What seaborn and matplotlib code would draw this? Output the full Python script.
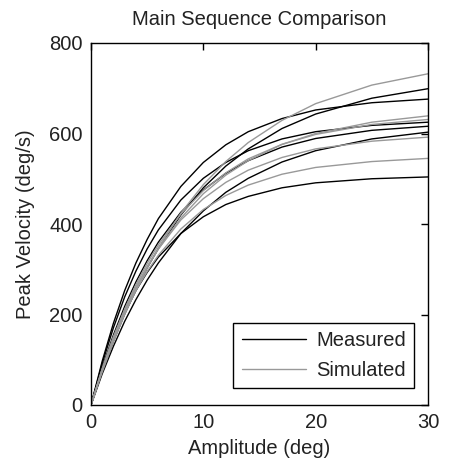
import numpy as np
import pandas as pd
import matplotlib
matplotlib.use("Agg")
import matplotlib.pyplot as plt
import seaborn as sns
from matplotlib.lines import Line2D

# Amplitudes (deg) at which the curves were read
amplitude = [0, 1, 2, 3, 4, 5, 6, 8, 10, 12, 14, 17, 20, 25, 30]

# Measured main-sequence curves (peak velocity, deg/s)
measured_1 = [0, 97, 181, 253, 314, 366, 412, 483, 536, 575, 604, 633, 652, 668, 676]
measured_2 = [0, 92, 171, 239, 296, 345, 387, 453, 501, 536, 562, 588, 604, 618, 625]
measured_3 = [0, 83, 155, 218, 272, 319, 360, 426, 475, 512, 540, 570, 589, 607, 616]
measured_4 = [0, 69, 130, 185, 233, 276, 314, 379, 429, 470, 501, 537, 562, 588, 603]
measured_5 = [0, 80, 148, 205, 253, 293, 327, 379, 416, 443, 461, 480, 491, 500, 504]
measured_6 = [0, 74, 141, 201, 254, 303, 346, 420, 480, 528, 566, 611, 643, 678, 699]

# Simulated main-sequence curves (peak velocity, deg/s)
simulated_1 = [0, 73, 140, 200, 254, 303, 347, 424, 487, 538, 580, 629, 666, 707, 732]
simulated_2 = [0, 77, 145, 205, 257, 304, 345, 413, 467, 508, 540, 576, 600, 625, 639]
simulated_3 = [0, 80, 151, 212, 266, 313, 354, 422, 474, 513, 544, 576, 598, 620, 631]
simulated_4 = [0, 80, 149, 209, 261, 306, 345, 409, 456, 492, 519, 547, 566, 583, 592]
simulated_5 = [0, 78, 146, 203, 253, 295, 331, 389, 432, 463, 486, 510, 525, 538, 545]

measured = [measured_1, measured_2, measured_3, measured_4, measured_5, measured_6]
simulated = [simulated_1, simulated_2, simulated_3, simulated_4, simulated_5]

rows = []
for i, s in enumerate(measured):
    for a, v in zip(amplitude, s):
        rows.append({"Amplitude": a, "Velocity": v, "Type": "Measured", "curve": f"m{i}"})
for i, s in enumerate(simulated):
    for a, v in zip(amplitude, s):
        rows.append({"Amplitude": a, "Velocity": v, "Type": "Simulated", "curve": f"s{i}"})
df = pd.DataFrame(rows)

sns.set_style("white")
plt.rcParams["font.family"] = ["Liberation Sans", "DejaVu Sans"]

W, H = 452, 468
fig = plt.figure(figsize=(W / 100, H / 100), dpi=100)
ax = fig.add_axes([91 / W, 1 - 405 / H, 337 / W, 362 / H])

BLACK = "#000000"
GRAY = "#999999"
sns.lineplot(data=df, x="Amplitude", y="Velocity", hue="Type", units="curve",
             estimator=None, palette={"Measured": BLACK, "Simulated": GRAY},
             linewidth=1.0, legend=False, ax=ax, sort=False)

ax.set_xlim(0, 30)
ax.set_ylim(0, 800)
ax.set_xticks([0, 10, 20, 30])
ax.set_yticks([0, 200, 400, 600, 800])
fs = 14.5
TXT = "#222222"
ax.tick_params(direction="in", length=5, width=1, colors="black", labelcolor=TXT,
               labelsize=fs, top=True, right=True)
ax.tick_params(axis="x", pad=6)
ax.tick_params(axis="y", pad=6)
for sp in ax.spines.values():
    sp.set_color("black")
    sp.set_linewidth(1.0)
    sp.set_visible(True)

ax.set_xlabel("Amplitude (deg)", fontsize=fs, color=TXT, labelpad=5)
ax.set_ylabel("Peak Velocity (deg/s)", fontsize=fs, color=TXT, labelpad=10)
ax.set_title("Main Sequence Comparison", fontsize=fs, color=TXT, pad=13)

handles = [Line2D([0], [0], color=BLACK, lw=1.0), Line2D([0], [0], color=GRAY, lw=1.0)]
leg = ax.legend(handles, ["Measured", "Simulated"], loc="lower right",
                bbox_to_anchor=(0.958, 0.047), borderaxespad=0.0, fontsize=fs,
                frameon=True, fancybox=False, edgecolor="black", framealpha=1,
                handlelength=3.2, borderpad=0.4, labelspacing=0.55, handletextpad=0.5)
leg.get_frame().set_linewidth(1.0)
for t in leg.get_texts():
    t.set_color(TXT)

fig.savefig("out.png", dpi=100)
